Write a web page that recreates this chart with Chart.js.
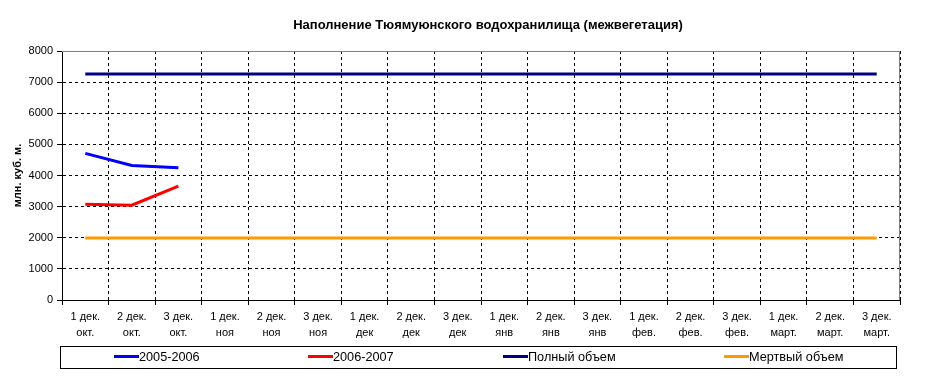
<!DOCTYPE html>
<html>
<head>
<meta charset="utf-8">
<script src="https://cdn.jsdelivr.net/npm/chart.js@4/dist/chart.umd.min.js"></script>
<style>
  body { margin: 0; background: #fff; }
  #wrap { position: relative; width: 929px; height: 392px; }
  #legend {
    position: absolute; left: 60px; top: 346px; width: 835px; height: 21px;
    border: 1px solid #000; font: 12.7px Arial, "Liberation Sans", sans-serif;
  }
  .item { position: absolute; top: 2px; height: 16px; line-height: 16px; white-space: nowrap; }
  .sw { display: inline-block; width: 25px; height: 3px; vertical-align: middle; position: relative; top: -1px; }
</style>
</head>
<body>
<div id="wrap">
  <canvas id="grafico" width="929" height="392"></canvas>
  <div id="legend"></div>
</div>
<script>
const decades = ['1 дек.', '2 дек.', '3 дек.'];
const months = ['окт.', 'ноя', 'дек', 'янв', 'фев.', 'март.'];
const etiquetas = [];
months.forEach(m => decades.forEach(d => etiquetas.push([d, m])));

const serie0506 = [4710, 4320, 4250];
const serie0607 = [3075, 3045, 3660];
const polnyObem = 7260;
const mertvyObem = 1990;

const colores = ['#0000ff', '#ff0000', '#000080', '#ff9900'];
const nombres = ['2005-2006', '2006-2007', 'Полный объем', 'Мертвый объем'];
const titulo = 'Наполнение Тюямуюнского водохранилища (межвегетация)';
const legendX = [53, 247, 442, 663];

const FONT = 'Arial, "Liberation Sans", sans-serif';

const bordePlot = {
    id: 'bordePlot',
    beforeDatasetsDraw(chart) {
        const { ctx, chartArea: a } = chart;
        ctx.save();
        ctx.strokeStyle = '#808080';
        ctx.lineWidth = 1;
        ctx.beginPath();
        ctx.moveTo(a.left, a.top + 0.5);
        ctx.lineTo(a.right - 0.5, a.top + 0.5);
        ctx.lineTo(a.right - 0.5, a.bottom);
        ctx.stroke();
        ctx.restore();
    },
    afterDraw(chart) {
        const ctx = chart.ctx;
        ctx.save();
        ctx.fillStyle = '#000';
        ctx.font = 'bold 13px ' + FONT;
        ctx.textAlign = 'center';
        ctx.textBaseline = 'middle';
        ctx.fillText(titulo, 488, 25);
        ctx.restore();
    }
};

const datos = [
    serie0506,
    serie0607,
    etiquetas.map(() => polnyObem),
    etiquetas.map(() => mertvyObem)
];

const chart = new Chart(document.getElementById('grafico'), {
    type: 'line',
    data: {
        labels: etiquetas,
        datasets: datos.map((d, i) => ({
            label: nombres[i],
            data: d,
            borderColor: colores[i],
            backgroundColor: colores[i],
            borderWidth: 3,
            pointRadius: 0,
            tension: 0,
            fill: false
        }))
    },
    options: {
        responsive: false,
        animation: false,
        layout: { padding: { left: 0, right: 29, top: 51, bottom: 0 } },
        plugins: {
            legend: { display: false },
            tooltip: { enabled: false },
            title: { display: false }
        },
        scales: {
            x: {
                offset: true,
                afterFit(s) { s.height = 92; },
                grid: {
                    offset: true,
                    color: c => (c.index === etiquetas.length ? 'rgba(0,0,0,0)' : '#000'),
                    tickColor: '#000',
                    tickLength: 5,
                    tickBorderDash: []
                },
                border: { display: true, color: '#000', width: 1, dash: [3, 3] },
                ticks: {
                    color: '#000',
                    font: { family: FONT, size: 11, lineHeight: 1.45 },
                    maxRotation: 0,
                    autoSkip: false,
                    padding: 4
                }
            },
            y: {
                min: 0,
                max: 8000,
                afterFit(s) { s.width = 62; },
                grid: {
                    color: c => (c.tick && c.tick.value === 8000 ? 'rgba(0,0,0,0)' : '#000'),
                    tickColor: '#000',
                    tickLength: 5,
                    tickBorderDash: []
                },
                border: { display: true, color: '#000', width: 1, dash: [3, 3] },
                ticks: {
                    stepSize: 1000,
                    color: '#000',
                    font: { family: FONT, size: 11 },
                    padding: 4,
                    callback: v => String(v)
                },
                title: {
                    display: true,
                    text: 'млн. куб. м.',
                    color: '#000',
                    font: { family: FONT, size: 11, weight: 'bold' },
                    padding: { top: 11, bottom: 0 }
                }
            }
        }
    },
    plugins: [bordePlot]
});

const leyenda = document.getElementById('legend');
chart.data.datasets.forEach((ds, i) => {
    const it = document.createElement('div');
    it.className = 'item';
    it.style.left = legendX[i] + 'px';
    const sw = document.createElement('span');
    sw.className = 'sw';
    sw.style.background = ds.borderColor;
    it.appendChild(sw);
    it.appendChild(document.createTextNode(ds.label));
    leyenda.appendChild(it);
});
</script>
</body>
</html>
